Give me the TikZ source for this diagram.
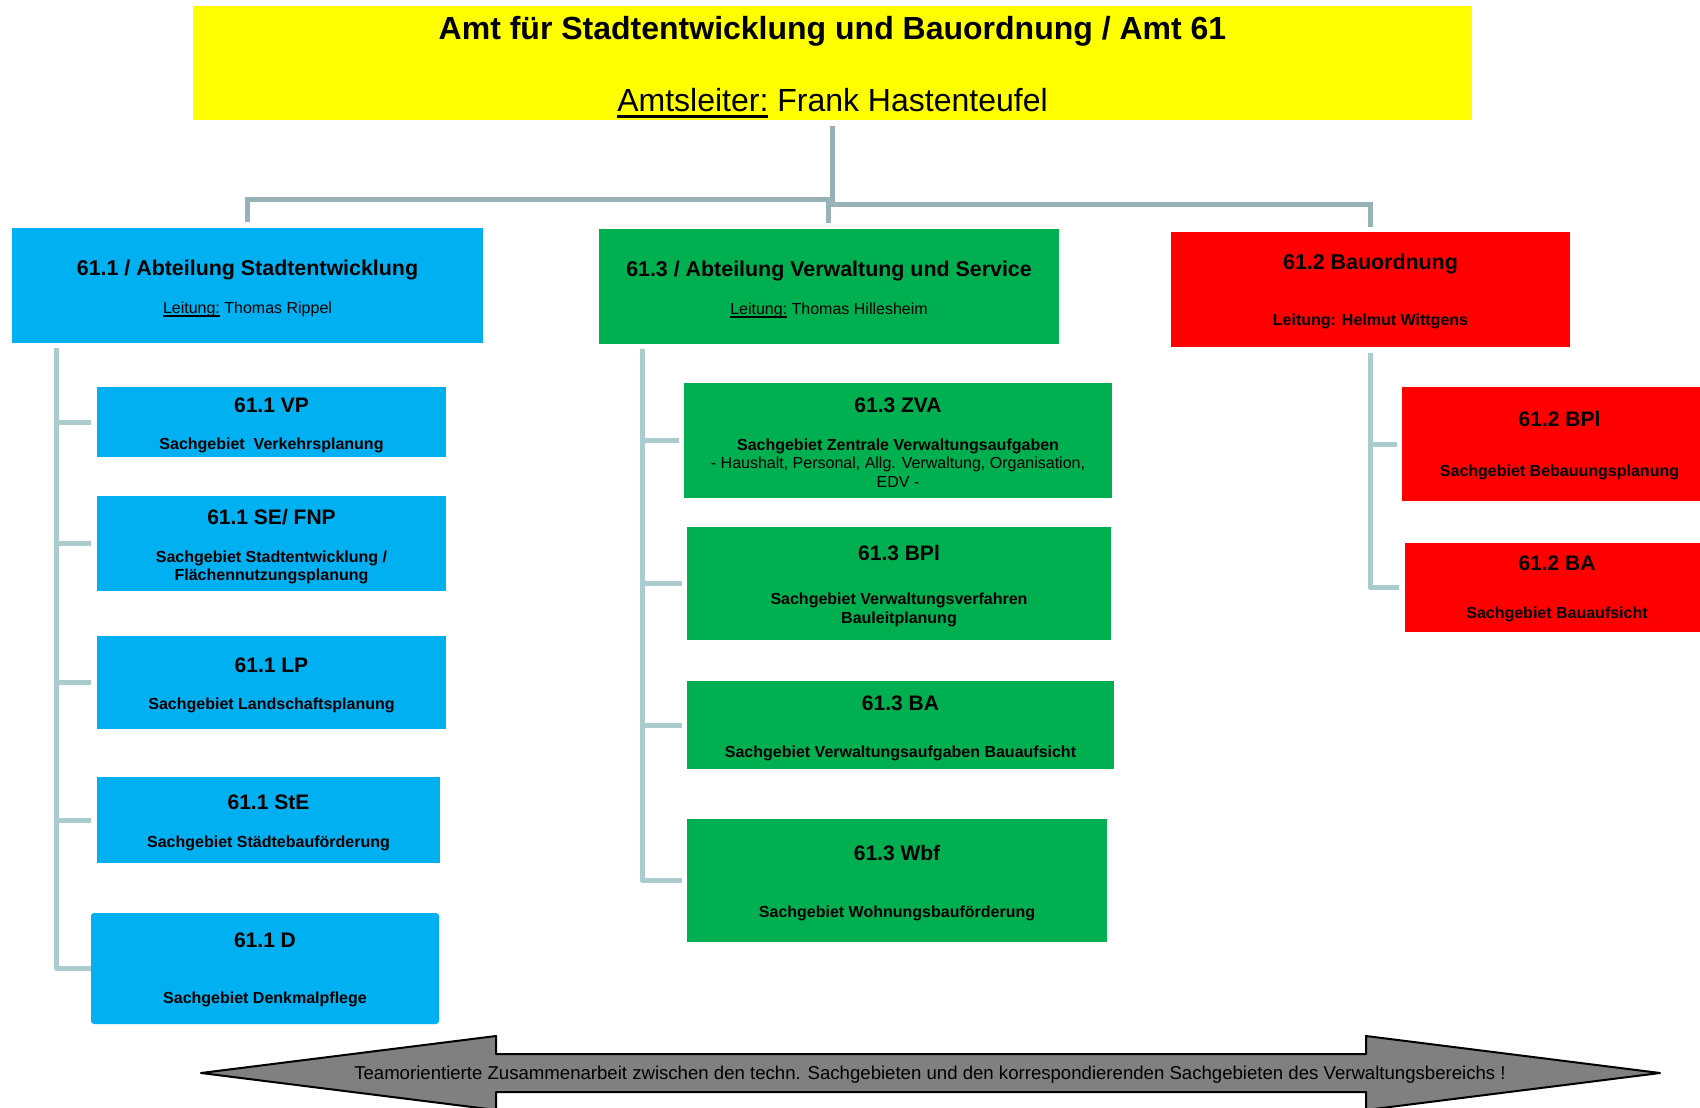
\documentclass[tikz,border=0pt]{standalone}
\usepackage{fontspec}
\setmainfont{Liberation Sans}
\definecolor{amtyellow}{HTML}{FFFF00}
\definecolor{deptblue}{HTML}{00B0F0}
\definecolor{deptgreen}{HTML}{00B050}
\definecolor{deptred}{HTML}{FF0000}
\definecolor{topconn}{HTML}{96B2B6}
\definecolor{subconn}{HTML}{AACCCF}
\definecolor{arrowgray}{HTML}{808080}
\newcommand{\ulx}[3]{\setbox0=\hbox{#3}\leavevmode\rlap{\rule[-#1]{\wd0}{#2}}\box0\relax}
\begin{document}
\begin{tikzpicture}[x=1pt,y=-1pt,
  boxbase/.style={rectangle,inner sep=0pt,outer sep=0pt,draw=none},
  yellowbox/.style={boxbase,fill=amtyellow},
  bluebox/.style={boxbase,fill=deptblue},
  greenbox/.style={boxbase,fill=deptgreen},
  redbox/.style={boxbase,fill=deptred},
  sz/.style 2 args={minimum width=#1pt,minimum height=#2pt},
  tbig/.style={inner sep=0pt,anchor=base,yshift=-11.5pt,font=\fontsize{32}{38}\selectfont\bfseries},
  tbign/.style={inner sep=0pt,anchor=base,yshift=-11.5pt,font=\fontsize{32}{38}\selectfont},
  tdept/.style={inner sep=0pt,anchor=base,yshift=-7.6pt,font=\fontsize{21.4}{25}\selectfont\bfseries},
  thead/.style={inner sep=0pt,anchor=base,yshift=-7.5pt,font=\fontsize{21}{25}\selectfont\bfseries},
  tsmall/.style={inner sep=0pt,anchor=base,yshift=-5.8pt,font=\fontsize{16}{19}\selectfont},
  tsmallb/.style={inner sep=0pt,anchor=base,yshift=-5.8pt,font=\fontsize{16}{19}\selectfont\bfseries},
  tarrow/.style={inner sep=0pt,anchor=base,yshift=-6.7pt,font=\fontsize{18.6}{22}\selectfont},
  topline/.style={draw=topconn,line width=5pt},
  subline/.style={draw=subconn,line width=5pt,line join=round}]
\useasboundingbox (0,0) rectangle (1700,1108);
\clip (0,0) rectangle (1700,1108);
\fill[white] (0,0) rectangle (1700,1108);

% ---------- head office ----------
\node[yellowbox,sz={1279}{114}] (amt) at (832.5,63) {};
\node[tbig] (amtT) at (amt |- 0,28) {Amt für Stadtentwicklung und Bauordnung / Amt 61};
\node[tbign] (amtL) at (amt |- 0,100) {\ulx{6pt}{2.5pt}{Amtsleiter:} Frank Hastenteufel};

% ---------- departments ----------
\node[bluebox,sz={471}{115}] (a611) at (247.5,285.5) {};
\node[tdept] (a611T) at (a611 |- 0,268) {61.1 / Abteilung Stadtentwicklung};
\node[tsmall] (a611L) at (a611 |- 0,308) {\ulx{2.8pt}{1.4pt}{Leitung:} Thomas Rippel};

\node[greenbox,sz={460}{115}] (a613) at (829,286.5) {};
\node[tdept] (a613T) at (a613 |- 0,269) {61.3 / Abteilung Verwaltung und Service};
\node[tsmall] (a613L) at (a613 |- 0,309) {\ulx{2.8pt}{1.4pt}{Leitung:} Thomas Hillesheim};

\node[redbox,sz={399}{115}] (a612) at (1370.5,289.5) {};
\node[tdept] (a612T) at (a612 |- 0,262) {61.2 Bauordnung};
\node[tsmallb] (a612L) at (a612 |- 0,320) {Leitung: Helmut Wittgens};

% ---------- 61.1 units ----------
\node[bluebox,sz={349}{70}] (vp) at (271.5,422) {};
\node[thead] (vpT) at (vp |- 0,405) {61.1 VP};
\node[tsmallb] (vpS) at (vp |- 0,444) {Sachgebiet\ \ Verkehrsplanung};

\node[bluebox,sz={349}{95}] (se) at (271.5,543.5) {};
\node[thead] (seT) at (se |- 0,517) {61.1 SE/ FNP};
\node[tsmallb] (seS1) at (se |- 0,557) {Sachgebiet Stadtentwicklung /};
\node[tsmallb] (seS2) at (se |- 0,575) {Flächennutzungsplanung};

\node[bluebox,sz={349}{93}] (lp) at (271.5,682.5) {};
\node[thead] (lpT) at (lp |- 0,665) {61.1 LP};
\node[tsmallb] (lpS) at (lp |- 0,704) {Sachgebiet Landschaftsplanung};

\node[bluebox,sz={343}{86}] (ste) at (268.5,820) {};
\node[thead] (steT) at (ste |- 0,802) {61.1 StE};
\node[tsmallb] (steS) at (ste |- 0,842) {Sachgebiet Städtebauförderung};

\node[bluebox,sz={348}{111},rounded corners=3pt] (dm) at (265,968.5) {};
\node[thead] (dmT) at (dm |- 0,940) {61.1 D};
\node[tsmallb] (dmS) at (dm |- 0,998) {Sachgebiet Denkmalpflege};

% ---------- 61.3 units ----------
\node[greenbox,sz={428}{115}] (zva) at (898,440.5) {};
\node[thead] (zvaT) at (zva |- 0,405) {61.3 ZVA};
\node[tsmallb] (zvaS1) at (zva |- 0,445) {Sachgebiet Zentrale Verwaltungsaufgaben};
\node[tsmall] (zvaS2) at (zva |- 0,463) {- Haushalt, Personal, Allg. Verwaltung, Organisation,};
\node[tsmall] (zvaS3) at (zva |- 0,482) {EDV -};

\node[greenbox,sz={424}{113}] (bpl3) at (899,583.5) {};
\node[thead] (bpl3T) at (bpl3 |- 0,553) {61.3 BPl};
\node[tsmallb] (bpl3S1) at (bpl3 |- 0,599) {Sachgebiet Verwaltungsverfahren};
\node[tsmallb] (bpl3S2) at (bpl3 |- 0,618) {Bauleitplanung};

\node[greenbox,sz={427}{88}] (ba3) at (900.5,725) {};
\node[thead] (ba3T) at (ba3 |- 0,703) {61.3 BA};
\node[tsmallb] (ba3S) at (ba3 |- 0,752) {Sachgebiet Verwaltungsaufgaben Bauaufsicht};

\node[greenbox,sz={420}{123}] (wbf) at (897,880.5) {};
\node[thead] (wbfT) at (wbf |- 0,853) {61.3 Wbf};
\node[tsmallb] (wbfS) at (wbf |- 0,912) {Sachgebiet Wohnungsbauförderung};

% ---------- 61.2 units ----------
\node[redbox,sz={315}{114}] (bpl2) at (1559.5,444) {};
\node[thead] (bpl2T) at (bpl2 |- 0,419) {61.2 BPl};
\node[tsmallb] (bpl2S) at (bpl2 |- 0,471) {Sachgebiet Bebauungsplanung};

\node[redbox,sz={304}{89}] (ba2) at (1557,587.5) {};
\node[thead] (ba2T) at (ba2 |- 0,563) {61.2 BA};
\node[tsmallb] (ba2S) at (ba2 |- 0,613) {Sachgebiet Bauaufsicht};

% ---------- top connectors ----------
\coordinate (jl) at (832,199.5);
\coordinate (jr) at (828.5,204.5);
\draw[topline] ([yshift=-6pt]amt.south -| jl) -- (jl |- 0,202);
\draw[topline] ([xshift=2.5pt]jl) -- (jl -| a611.north) -- ([yshift=6pt]a611.north);
\draw[topline] ([yshift=6pt]a613.north -| jr) -- ([yshift=2.5pt]jr);
\draw[topline] ([xshift=-2.5pt]jr) -- (jr -| a612.north) -- ([yshift=5pt]a612.north);

% ---------- sub connectors ----------
\coordinate (sl) at (56.5,348);
\coordinate (sm) at (642,349);
\coordinate (sr) at (1370,353);
\draw[subline] (sl) |- (dm.west);
\draw[subline] (sl |- vp.west) -- ([xshift=-6pt]vp.west);
\draw[subline] (sl |- se.west) -- ([xshift=-6pt]se.west);
\draw[subline] (sl |- lp.west) -- ([xshift=-6pt]lp.west);
\draw[subline] (sl |- ste.west) -- ([xshift=-6pt]ste.west);
\draw[subline] (sm) |- ([xshift=-5pt]wbf.west);
\draw[subline] (sm |- zva.west) -- ([xshift=-5pt]zva.west);
\draw[subline] (sm |- bpl3.west) -- ([xshift=-5pt]bpl3.west);
\draw[subline] (sm |- ba3.west) -- ([xshift=-5pt]ba3.west);
\draw[subline] (sr) |- ([xshift=-6pt]ba2.west);
\draw[subline] (sr |- bpl2.west) -- ([xshift=-5pt]bpl2.west);

% ---------- cooperation arrow ----------
\path[draw=black,line width=2pt,line join=round,fill=arrowgray]
  (201,1073) -- (496,1036) -- (496,1054) -- (1366,1054) -- (1366,1036)
  -- (1660,1073) -- (1366,1110) -- (1366,1092) -- (496,1092) -- (496,1110) -- cycle;
\node[tarrow] (coop) at (930,1073) {Teamorientierte Zusammenarbeit zwischen den techn. Sachgebieten und den korrespondierenden Sachgebieten des Verwaltungsbereichs !};
\end{tikzpicture}
\end{document}
